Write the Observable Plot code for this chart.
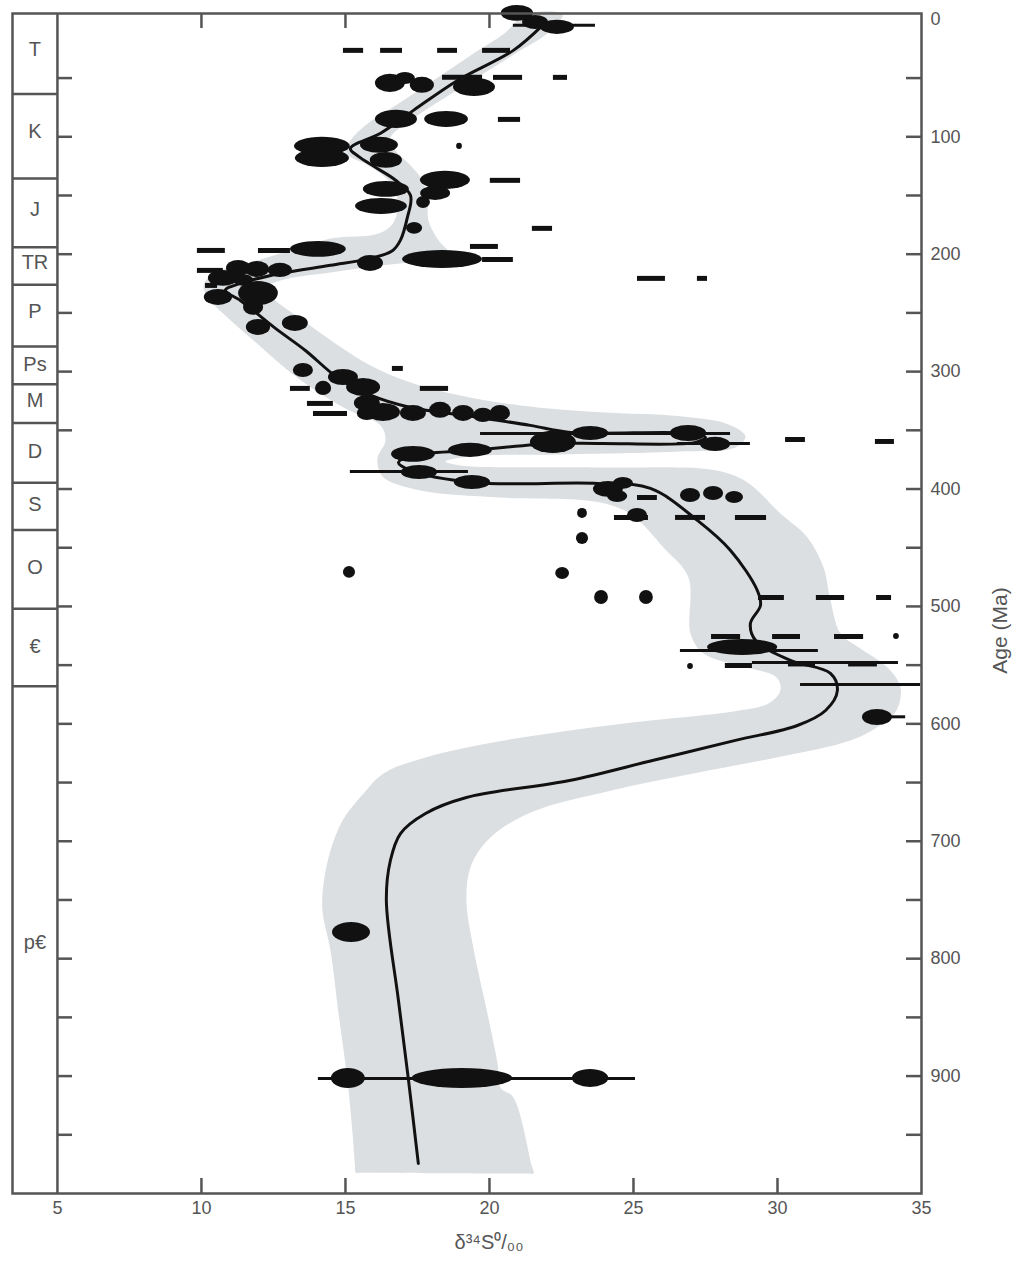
<!DOCTYPE html>
<html>
<head>
<meta charset="utf-8">
<script src="https://cdn.jsdelivr.net/npm/d3@7"></script>
<script src="https://cdn.jsdelivr.net/npm/@observablehq/plot@0.6"></script>
<style>
  body { margin: 0; background: #fff; }
  #chart svg { display: block; }
</style>
</head>
<body>
<div id="chart"></div>
<script>
// ---- Data (δ34S ‰, age Ma) ----
const meanCurve = [
  [21.84, 5.1], [20.83, 26.4], [18.89, 52], [17.36, 77.5], [16.22, 97], [15.17, 110],
  [15.45, 116.7], [16.04, 126], [16.74, 137], [17.26, 150], [17.15, 168.7], [16.91, 188],
  [16.63, 197], [15.87, 203.6], [14.48, 209.5], [12.74, 216.4], [11.35, 224.9], [10.83, 230.8],
  [11.35, 239.4], [11.88, 249.6], [12.57, 263.2], [13.61, 282], [14.72, 305], [15.87, 320],
  [17.26, 330.5], [19.34, 338], [21.42, 345.8], [22.81, 351.8], [26.98, 352.6], [27.5, 356],
  [27.15, 360.3], [23.85, 361.2], [22.22, 361.2], [19.34, 367.1], [17.36, 371.4], [16.84, 377.3],
  [17.26, 384.2], [19.44, 394.4], [23.75, 395.2], [25.59, 399.5], [27.22, 426.7], [28.37, 452.3],
  [29.3, 486.4], [29.41, 499.1], [29.06, 514.5], [29.24, 529], [30.45, 546], [31.84, 557],
  [32.08, 571.6], [31.67, 588.6], [30.69, 601.4], [28.54, 614.1], [25.66, 631.2], [22.78, 648.2],
  [19.2, 662.7], [17.78, 676.3], [16.91, 693.4], [16.56, 716.4], [16.42, 750.4], [16.84, 835.6],
  [17.19, 903.7], [17.53, 974.4]
];

const bandOutline = [
  [21.25, -4.3], [20.56, 11.1], [19.34, 30.7], [17.95, 53.7], [16.74, 73.3], [15.69, 90.3],
  [15.17, 103.1], [15.0, 113.3], [15.8, 124.4], [16.49, 137.1], [16.81, 154.2], [16.67, 172.9],
  [16.15, 182.3], [14.48, 186.6], [13.09, 196.8], [11.7, 207], [10.49, 215.5], [10.07, 226.6],
  [10.31, 239.4], [10.94, 254.7], [11.88, 275.1], [12.92, 297.3], [13.96, 316], [15.0, 331.4],
  [16.22, 345.9], [16.39, 358.6], [16.11, 374], [16.29, 389.3], [17.6, 401.2], [20.38, 407.2],
  [23.85, 411.4], [24.97, 422.5], [26.04, 449.8], [26.91, 475.3], [26.98, 523], [27.43, 540],
  [28.96, 552], [29.97, 560.5], [30.1, 571.6], [29.69, 582.6], [28.47, 589.4], [25.59, 597.1],
  [22.78, 605.6], [19.93, 616.7], [17.78, 628.6], [16.32, 642.2], [15.63, 659.3], [14.9, 682.3],
  [14.48, 707.9], [14.24, 736], [14.2, 759], [14.48, 793], [14.76, 846.7], [15.07, 903.8],
  [15.25, 950], [15.33, 976], [15.36, 982.3], [15.5, 982.4], [18.4, 982.8], [21.3, 983], [21.53, 982.8],
  [21.45, 975], [20.83, 918.2], [20.38, 909.7], [20.28, 889.3], [19.93, 846.7],
  [19.44, 790.5], [19.2, 750.4], [19.34, 722.3], [19.93, 699.3], [21.35, 676.3], [24.24, 656.7],
  [27.08, 642.2], [29.97, 628.6], [32.53, 614.1], [33.44, 603.1], [34.13, 588.6], [34.27, 569],
  [33.82, 552], [32.88, 535.8], [32.19, 523], [31.84, 494.9], [31.6, 466.8], [31.04, 441.2],
  [30.1, 420.8], [28.96, 394.4], [27.85, 384.1], [23.85, 381.6], [18.99, 379.9], [18.47, 376.5],
  [19.34, 372.2], [22.47, 370.5], [26.63, 368], [28.54, 364.6], [28.89, 355.2], [28.3, 345],
  [26.63, 338.1], [23.85, 334.7], [21.08, 328.8], [18.99, 320.3], [17.26, 309.2], [15.87, 294.7],
  [14.65, 276], [13.44, 254.7], [12.57, 239.4], [12.22, 229.1], [12.74, 222.3], [14.48, 215.5],
  [16.56, 208.7], [17.78, 205.3], [18.65, 201], [18.23, 188.2], [17.88, 171.2], [17.85, 152.5],
  [17.67, 137.1], [17.26, 124.4], [16.74, 111.6], [16.56, 101.4], [17.26, 86], [18.3, 69],
  [19.69, 47.7], [21.08, 26.4], [22.05, 11.1], [22.54, -4.3]
];

// samples: [δ, age, ±δ, ±age]
const samples = [
  [20.97, -5.1, 0.56, 6.8], [21.6, 2.6, 0.45, 6], [22.36, 6.8, 0.59, 6],
  [16.56, 54.5, 0.52, 7.7], [17.08, 50.3, 0.35, 5.1], [17.67, 56.2, 0.42, 6.8], [19.48, 57.9, 0.73, 7.7],
  [16.77, 85.2, 0.73, 7.7], [18.51, 85.2, 0.76, 6.8],
  [14.2, 108.2, 0.97, 7.7], [14.2, 118.4, 0.94, 7.7], [16.18, 107.3, 0.66, 6.8], [16.42, 120.1, 0.56, 6.8],
  [18.96, 108.2, 0.1, 2.6], [18.47, 137.1, 0.87, 7.7], [16.42, 144.8, 0.8, 6.8], [18.13, 148.2, 0.52, 6],
  [16.25, 159.3, 0.9, 6.8], [17.71, 155.9, 0.24, 5.1], [17.4, 178, 0.28, 5.1],
  [14.06, 195.9, 0.97, 6.8], [15.87, 207.9, 0.45, 6.8], [18.37, 204.5, 1.39, 7.7],
  [11.29, 212.1, 0.42, 6.8], [11.94, 213, 0.42, 6.8], [12.74, 213.8, 0.42, 6],
  [10.76, 220.6, 0.52, 6.8], [11.46, 222.3, 0.35, 5.1], [10.59, 236.8, 0.49, 6.8],
  [11.98, 233.4, 0.69, 10.2], [11.81, 245.3, 0.35, 6.8], [13.26, 259, 0.45, 6.8], [11.98, 262.4, 0.42, 6.8],
  [13.54, 299, 0.35, 6], [14.93, 305, 0.52, 6.8], [15.63, 313.5, 0.59, 7.7], [14.24, 314.3, 0.28, 6],
  [15.76, 327.1, 0.45, 6.8], [16.32, 334.8, 0.59, 7.7], [15.76, 335.6, 0.35, 6], [17.36, 335.6, 0.45, 6.8],
  [18.3, 333, 0.38, 6.8], [19.1, 335.6, 0.38, 6.8], [19.79, 337.3, 0.35, 6], [20.38, 335.6, 0.35, 6.8],
  [22.22, 360.3, 0.8, 9.4], [23.51, 352.7, 0.63, 6], [26.91, 352.7, 0.63, 6.8], [27.85, 362, 0.52, 6],
  [17.36, 370.5, 0.76, 6.8], [19.34, 367.1, 0.76, 6], [17.57, 385.9, 0.63, 6], [19.41, 394.4, 0.63, 6],
  [24.13, 400.3, 0.52, 6.8], [24.65, 395.2, 0.35, 5.1], [24.45, 406.3, 0.35, 5.1],
  [26.98, 405.5, 0.35, 6], [27.78, 403.8, 0.35, 6], [28.51, 407.2, 0.31, 5.1],
  [23.23, 420.8, 0.17, 4.3], [25.14, 422.5, 0.35, 6], [23.23, 442.1, 0.21, 5.1],
  [22.54, 471.9, 0.24, 5.1], [15.14, 471, 0.21, 5.1], [23.89, 492.4, 0.24, 6], [25.45, 492.4, 0.24, 6],
  [34.13, 525.6, 0.1, 2.6], [28.79, 534.9, 1.22, 6.8], [26.98, 551.1, 0.1, 2.6], [33.47, 594.6, 0.52, 6.8],
  [15.21, 777.7, 0.66, 8.5], [15.1, 902, 0.59, 8.5], [19.06, 902, 1.74, 8.5], [23.51, 902, 0.63, 7.7]
];

// short measured ranges: [age, δ from, δ to]
const dashes = [
  [26.4, 14.93, 15.63], [26.4, 16.22, 16.98], [26.4, 18.2, 18.89], [26.4, 19.76, 20.73],
  [49.4, 18.37, 19.76], [49.4, 20.14, 21.15], [49.4, 22.22, 22.71],
  [85.2, 20.31, 21.08], [137.1, 20.03, 21.08], [178, 21.49, 22.19], [193.4, 19.34, 20.31],
  [196.8, 9.86, 10.83], [196.8, 11.98, 13.09], [204.5, 19.76, 20.83], [213.8, 9.86, 10.76],
  [220.6, 25.14, 26.11], [220.6, 27.22, 27.57], [226.6, 10.14, 10.56],
  [297.3, 16.63, 17.01], [314.3, 13.09, 13.78], [314.3, 17.6, 18.58], [327.1, 13.68, 14.58],
  [335.6, 13.89, 15.07], [357.8, 30.28, 30.97], [359.5, 33.4, 34.06], [407.2, 25.14, 25.83],
  [424.2, 24.34, 25.52], [424.2, 26.46, 27.5], [424.2, 28.54, 29.62],
  [492.4, 29.34, 30.24], [492.4, 31.35, 32.33], [492.4, 33.44, 33.96],
  [525.6, 27.71, 28.72], [525.6, 29.83, 30.8], [525.6, 31.98, 32.99],
  [550.3, 28.19, 29.13], [549, 30.38, 31.32], [549, 32.47, 33.47]
];

// long error bars: [age, δ from, δ to]
const errorBars = [
  [5.1, 20.83, 23.68], [352.7, 19.69, 28.37], [361.2, 26.53, 29.06], [385, 15.17, 19.27],
  [537.5, 26.63, 31.42], [547.7, 29.13, 34.2], [566.5, 30.8, 34.97], [594, 33.47, 34.45],
  [902, 14.06, 25.07]
];

const periodNames = ["T", "K", "J", "TR", "P", "Ps", "M", "D", "S", "O", "€", "p€"];
const periodLabelAges = [26, 96, 162, 207, 249, 294, 325, 368, 413, 467, 534, 786];
const periodBounds = [63.5, 135.5, 194, 226, 278.6, 310.7, 343.8, 394.6, 435, 502, 568];

const xTickLabels = [5, 10, 15, 20, 25, 30, 35];
const xBottomTicks = [10, 15, 20, 25, 30];
const xTopTicks = [10, 15, 20];
const ageTickLabels = [0, 100, 200, 300, 400, 500, 600, 700, 800, 900];
const ageTicks = [50, 100, 150, 200, 250, 300, 350, 400, 450, 500, 550, 600, 650, 700, 750, 800, 850, 900, 950];

const xLabel = "δ³⁴S⁰/₀₀";
const yLabel = "Age (Ma)";

// ---- Layout ----
const colEdge = 3.44;           // left edge of the period column (δ scale)
const W = 1013, H = 1266;
const mT = 13, mB = 73, mL = 12, mR = 92;
const frameW = W - mL - mR, frameH = H - mT - mB;
const TICK = 15;
const FONT = "'Liberation Sans',Arial,Helvetica,sans-serif";
const INK = "#555";

const chart = Plot.plot({
  width: W, height: H,
  marginTop: mT, marginBottom: mB, marginLeft: mL, marginRight: mR,
  x: {domain: [colEdge, 35], axis: null},
  y: {domain: [-5, 1000], reverse: true, axis: null},
  style: {fontFamily: FONT, background: "#fff", overflow: "visible"},
  marks: [
    Plot.line(bandOutline, {x: d => d[0], y: d => d[1], fill: "#dcdfe2", stroke: "none", curve: "catmull-rom-closed"}),
    Plot.line(meanCurve, {x: d => d[0], y: d => d[1], stroke: "#111", strokeWidth: 3, curve: "catmull-rom"}),
    Plot.ruleY(errorBars, {y: d => d[0], x1: d => d[1], x2: d => d[2], stroke: "#111", strokeWidth: 3}),
    Plot.ruleY(dashes, {y: d => d[0], x1: d => d[1], x2: d => d[2], stroke: "#111", strokeWidth: 5}),
    Plot.rect(samples, {
      x1: d => d[0] - d[2], x2: d => d[0] + d[2],
      y1: d => d[1] - d[3], y2: d => d[1] + d[3],
      fill: "#111", rx: 1000, ry: 1000
    }),
    Plot.frame({stroke: INK, strokeWidth: 2.5}),
    Plot.ruleX([5], {stroke: INK, strokeWidth: 2.5}),
    Plot.ruleY(periodBounds, {y: d => d, x1: colEdge, x2: 5, stroke: INK, strokeWidth: 2.5}),
    Plot.tickY(ageTicks, {y: d => d, insetLeft: 45, insetRight: frameW - 45 - TICK, stroke: INK, strokeWidth: 2.5}),
    Plot.tickY(ageTicks, {y: d => d, insetLeft: frameW - TICK, stroke: INK, strokeWidth: 2.5}),
    Plot.tickX(xBottomTicks, {x: d => d, insetTop: frameH - TICK, stroke: INK, strokeWidth: 2.5}),
    Plot.tickX(xTopTicks, {x: d => d, insetBottom: frameH - TICK, stroke: INK, strokeWidth: 2.5}),
    Plot.text(periodNames, {x: (colEdge + 5) / 2, y: (d, i) => periodLabelAges[i], text: d => d, fontSize: 20, fill: INK}),
    Plot.text(xTickLabels, {x: d => d, frameAnchor: "bottom", dy: 20, text: d => String(d), fontSize: 18, fill: INK}),
    Plot.text(ageTickLabels, {y: d => d, frameAnchor: "right", dx: 9, textAnchor: "start", text: d => String(d), fontSize: 18, fill: INK}),
    Plot.text([xLabel], {frameAnchor: "bottom", dx: 22, dy: 55, text: d => d, fontSize: 20, fill: INK}),
    Plot.text([yLabel], {frameAnchor: "right", dx: 79, dy: 27, rotate: -90, textAnchor: "middle", text: d => d, fontSize: 21, fill: INK})
  ]
});
document.getElementById("chart").appendChild(chart);
</script>
</body>
</html>
